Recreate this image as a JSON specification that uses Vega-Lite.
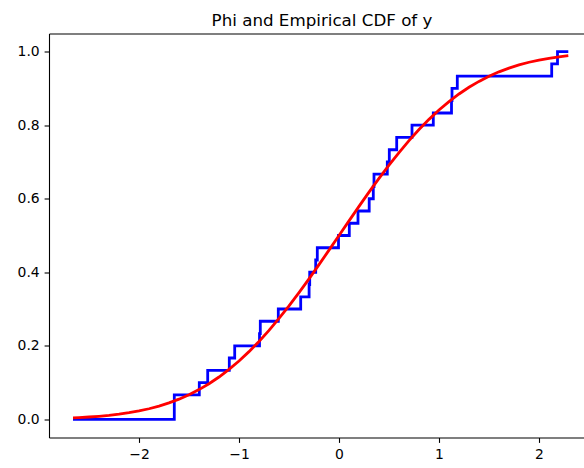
{
  "$schema": "https://vega.github.io/schema/vega-lite/v6.json",
  "autosize": "none",
  "padding": {"left": 49, "top": 33.5, "right": 0, "bottom": 30.5},
  "width": 535,
  "height": 404,
  "background": "white",
  "title": {
    "text": "Phi and Empirical CDF of y",
    "font": "DejaVu Sans",
    "fontSize": 16.7,
    "fontWeight": "normal",
    "color": "black",
    "anchor": "middle",
    "frame": "group",
    "baseline": "alphabetic",
    "offset": 9.5,
    "dx": 5.5,
    "dy": 19
  },
  "config": {
    "view": {"stroke": null}
  },
  "datasets": {
    "ecdf": [
      {"x": -2.66, "p": 0.0},
      {"x": -1.647, "p": 0.0667},
      {"x": -1.397, "p": 0.1},
      {"x": -1.313, "p": 0.1333},
      {"x": -1.097, "p": 0.1667},
      {"x": -1.043, "p": 0.2},
      {"x": -0.795, "p": 0.2333},
      {"x": -0.787, "p": 0.2667},
      {"x": -0.607, "p": 0.3},
      {"x": -0.383, "p": 0.3333},
      {"x": -0.299, "p": 0.3667},
      {"x": -0.293, "p": 0.4},
      {"x": -0.233, "p": 0.4333},
      {"x": -0.217, "p": 0.4667},
      {"x": -0.005, "p": 0.5},
      {"x": 0.103, "p": 0.5333},
      {"x": 0.19, "p": 0.5667},
      {"x": 0.302, "p": 0.6},
      {"x": 0.343, "p": 0.6333},
      {"x": 0.35, "p": 0.6667},
      {"x": 0.483, "p": 0.7},
      {"x": 0.503, "p": 0.7333},
      {"x": 0.577, "p": 0.7667},
      {"x": 0.73, "p": 0.8},
      {"x": 0.943, "p": 0.8333},
      {"x": 1.125, "p": 0.8667},
      {"x": 1.13, "p": 0.9},
      {"x": 1.183, "p": 0.9333},
      {"x": 2.127, "p": 0.9667},
      {"x": 2.185, "p": 1.0},
      {"x": 2.293, "p": 1.0}
    ],
    "phi": [
      {"x": -2.66, "p": 0.00391},
      {"x": -2.6, "p": 0.00466},
      {"x": -2.5, "p": 0.00621},
      {"x": -2.4, "p": 0.0082},
      {"x": -2.3, "p": 0.01072},
      {"x": -2.2, "p": 0.0139},
      {"x": -2.1, "p": 0.01786},
      {"x": -2.0, "p": 0.02275},
      {"x": -1.9, "p": 0.02872},
      {"x": -1.8, "p": 0.03593},
      {"x": -1.7, "p": 0.04457},
      {"x": -1.6, "p": 0.0548},
      {"x": -1.5, "p": 0.06681},
      {"x": -1.4, "p": 0.08076},
      {"x": -1.3, "p": 0.0968},
      {"x": -1.2, "p": 0.11507},
      {"x": -1.1, "p": 0.13567},
      {"x": -1.0, "p": 0.15866},
      {"x": -0.9, "p": 0.18406},
      {"x": -0.8, "p": 0.21186},
      {"x": -0.7, "p": 0.24196},
      {"x": -0.6, "p": 0.27425},
      {"x": -0.5, "p": 0.30854},
      {"x": -0.4, "p": 0.34458},
      {"x": -0.3, "p": 0.38209},
      {"x": -0.2, "p": 0.42074},
      {"x": -0.1, "p": 0.46017},
      {"x": 0.0, "p": 0.5},
      {"x": 0.1, "p": 0.53983},
      {"x": 0.2, "p": 0.57926},
      {"x": 0.3, "p": 0.61791},
      {"x": 0.4, "p": 0.65542},
      {"x": 0.5, "p": 0.69146},
      {"x": 0.6, "p": 0.72575},
      {"x": 0.7, "p": 0.75804},
      {"x": 0.8, "p": 0.78814},
      {"x": 0.9, "p": 0.81594},
      {"x": 1.0, "p": 0.84134},
      {"x": 1.1, "p": 0.86433},
      {"x": 1.2, "p": 0.88493},
      {"x": 1.3, "p": 0.9032},
      {"x": 1.4, "p": 0.91924},
      {"x": 1.5, "p": 0.93319},
      {"x": 1.6, "p": 0.9452},
      {"x": 1.7, "p": 0.95543},
      {"x": 1.8, "p": 0.96407},
      {"x": 1.9, "p": 0.97128},
      {"x": 2.0, "p": 0.97725},
      {"x": 2.1, "p": 0.98214},
      {"x": 2.2, "p": 0.9861},
      {"x": 2.293, "p": 0.98908}
    ]
  },
  "layer": [
    {
      "data": {"name": "ecdf"},
      "mark": {"type": "line", "interpolate": "step-after", "color": "#0000ff", "strokeWidth": 2.8, "clip": true},
      "encoding": {
        "x": {
          "field": "x", "type": "quantitative",
          "scale": {"domain": [-2.9, 2.45], "nice": false, "zero": false},
          "axis": {
            "orient": "bottom", "values": [-2, -1, 0, 1, 2], "format": "d", "title": null,
            "grid": false, "domainColor": "black", "domainWidth": 1.1,
            "tickColor": "black", "tickWidth": 1.1, "tickSize": 4.9,
            "labelPadding": 4.9, "labelFont": "DejaVu Sans", "labelFontSize": 13.9, "labelColor": "black"
          }
        },
        "y": {
          "field": "p", "type": "quantitative",
          "scale": {"domain": [-0.0495, 1.0495], "nice": false, "zero": false},
          "axis": {
            "orient": "left", "values": [0, 0.2, 0.4, 0.6, 0.8, 1.0], "format": ".1f", "title": null,
            "grid": false, "domainColor": "black", "domainWidth": 1.1,
            "tickColor": "black", "tickWidth": 1.1, "tickSize": 4.9,
            "labelPadding": 4.9, "labelFont": "DejaVu Sans", "labelFontSize": 13.9, "labelColor": "black"
          }
        }
      }
    },
    {
      "data": {"name": "phi"},
      "mark": {"type": "line", "color": "#ff0000", "strokeWidth": 2.8, "clip": true},
      "encoding": {
        "x": {
          "field": "x", "type": "quantitative",
          "axis": {"orient": "top", "labels": false, "ticks": false, "domain": true, "grid": false, "title": null,
                   "domainColor": "black", "domainWidth": 1.1}
        },
        "y": {
          "field": "p", "type": "quantitative"
        }
      }
    }
  ],
  "resolve": {"axis": {"x": "independent"}}
}
